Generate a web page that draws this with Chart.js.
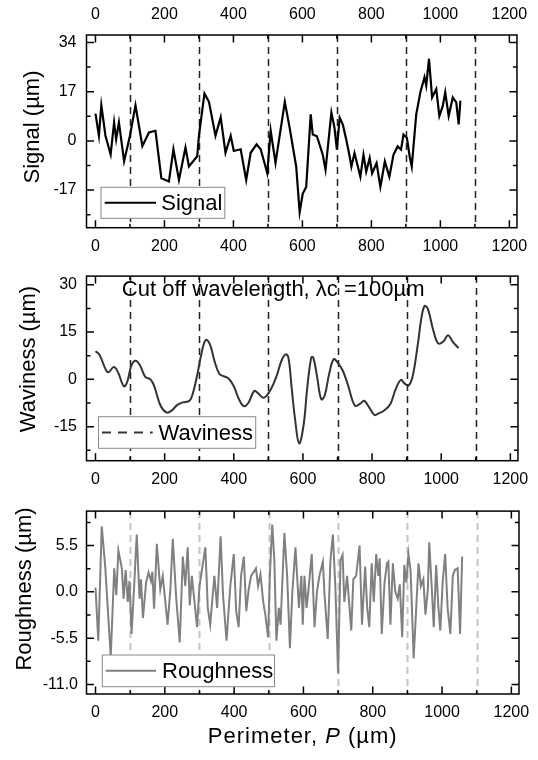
<!DOCTYPE html>
<html>
<head>
<meta charset="utf-8">
<script src="https://cdn.jsdelivr.net/npm/chart.js@4.4.1/dist/chart.umd.min.js"></script>
<style>
  html, body { margin: 0; padding: 0; background: #fff; }
  #wrap { position: relative; width: 538px; height: 760px; }
  .panel { position: absolute; left: 0; width: 538px; }
</style>
</head>
<body>
<div id="wrap">
  <div class="panel" style="top:0;height:257px"><canvas id="c1" width="538" height="257"></canvas></div>
  <div class="panel" style="top:257px;height:236px"><canvas id="c2" width="538" height="236"></canvas></div>
  <div class="panel" style="top:493px;height:267px"><canvas id="c3" width="538" height="267"></canvas></div>
</div>
<script>
/* ═══ profile: signal / waviness / roughness ═══ */
var xTicks   = [0, 200, 400, 600, 800, 1000, 1200];
var xMinor   = [100, 300, 500, 700, 900, 1100];
var cutLines = [100, 300, 500, 700, 900, 1100];

var sigTicks = [-17, 0, 17, 34];
var sigMinor = [-25.5, -8.5, 8.5, 25.5];
var wavTicks = [-15, 0, 15, 30];
var wavMinor = [-22.5, -7.5, 7.5, 22.5];
var rouTicks = [-11, -5.5, 0, 5.5];
var rouMinor = [-8.25, -2.75, 2.75, 8.25];

var sigX = [0,10,17,29,44,54,60,68,83,100,116,136,155,174,191,213,226,242,261,271,295,300,316,329,348,363,377,392,401,421,437,450,467,479,498,508,522,549,563,577,582,592,601,611,624,630,642,659,667,684,693,700,708,717,727,737,742,751,768,777,785,795,802,815,826,839,852,864,876,886,893,903,911,917,930,942,954,959,967,976,988,997,1007,1014,1024,1036,1046,1053,1058];
var sigY = [9.4,1.8,12.3,1.8,-4.7,6.4,0.6,6.4,-7,1.8,12.3,-1.8,2.9,3.5,-12.9,-14,-2.9,-13.5,-2.3,-8.8,-5.3,1.8,16.4,13.5,1.8,8.2,-4.1,1.8,-3.5,-2.9,-13.5,-4.1,-1.2,-2.9,-11.1,3.5,-7.6,13.5,4.5,-5.4,-8.9,-24.6,-18.2,-15.9,9.2,2.2,1.6,-4.8,-10,9.8,4.5,-3,8,5.7,0.5,-5.4,-8.9,-4.2,-12.4,-4.8,-10.6,-5.9,-11.2,-7.7,-15.9,-7.1,-12.4,-4.8,-1.9,-3,2.2,1,-5.4,-8.9,9.2,16.8,22,19.1,28.4,15,17.9,8.6,12.1,16.8,8.6,15,13.3,5.7,13.9];

var wavX = [0,11,31,38,53,65,82,92,104,116,129,144,159,170,188,205,218,237,252,272,282,295,306,319,331,344,358,370,385,400,415,429,442,459,469,484,494,508,523,538,550,558,567,577,589,602,612,624,630,641,653,663,676,689,700,715,730,750,765,777,791,807,819,836,853,868,883,893,905,917,932,942,952,962,976,991,1006,1020,1033,1050];
var wavY = [8.9,7.9,2.8,2.3,3.9,2.3,-2.2,-0.7,4.4,5.9,4.4,0.8,0,-2.2,-8.3,-10.5,-10.1,-8.1,-7.3,-6.8,-4.3,1.8,7.9,12.5,11.1,5.9,1.8,1,0.3,-2.2,-6.3,-8.5,-7.5,-3.7,-4.3,-5.8,-5.3,-3,0.8,5.9,7.9,6.9,-2.2,-12.4,-20.3,-14.4,-3.2,6.9,6.9,0.8,-6.3,-5.1,1.8,6.4,5.4,2.8,-1.7,-8.3,-7.8,-6.8,-8.8,-11.3,-10.8,-9.8,-7.8,-3.2,-0.2,-1.2,-2,0.8,10.9,19,23.3,22.1,16,11.4,12,14,12,9.9];

var rouX = [0,8,18,28,44,54,60,66,76,81,87,93,98,104,112,119,127,131,137,146,153,160,164,169,177,187,194,208,216,223,233,243,252,259,266,272,278,293,300,317,324,331,343,351,361,368,378,389,399,406,413,420,428,435,442,449,457,463,469,476,484,490,498,503,510,516,522,529,534,545,553,561,568,577,587,594,598,603,609,613,624,632,639,646,656,661,670,678,685,692,700,707,713,718,726,738,744,752,762,769,778,784,790,797,803,810,816,820,826,834,841,845,851,858,865,872,878,885,891,897,903,909,913,918,925,932,939,946,952,959,963,970,976,983,989,995,1002,1009,1016,1024,1031,1037,1045,1052,1058];
var rouY = [0.5,-5.8,7.8,3,-7.7,2.8,-0.4,4.9,2.8,-0.8,2.6,-1.2,1.3,-5,1.1,6.8,-0.8,1.5,-3.1,1.1,2.3,1.3,2.4,-2,5.7,0.3,1.9,-3.9,0.3,6.3,-0.8,-6,4.2,0.7,5.3,-1.6,1.9,-4.2,0.7,5.3,-1.9,-3.9,1.9,-1.9,6.6,-0.4,-5.8,0.7,4.5,-2.3,-4.2,1.9,4.2,-2.3,0.3,1.9,2.4,2.8,0.7,2.1,-1.2,-2.7,-5.4,1.9,8,3.8,-5.8,-1.9,-3.9,7,1.9,-6.7,0,5.3,-1.9,1.9,-3.9,1.9,-1.9,-0.4,4.5,-4.2,0,1.9,3.6,-0.4,-5.6,3.8,6.8,0.7,-9.7,3.8,4.4,-1.2,1.9,-4.6,1.5,1.9,5.5,-3.9,3,-1.9,-4.2,3.4,-1.2,4.5,1.9,4,-5,1.1,3.4,3.6,-3.9,3.4,0,-0.8,0.9,-5.4,3.2,1.1,4.5,2.6,-1.9,-7.9,-2.3,3.4,0.7,1.5,-2.7,0.3,5.9,0.7,-4.2,3.2,-1.6,-4.6,1.3,4.5,-1.9,-5,1.9,2.6,2.8,-5,4.2];

var FONT = '"Liberation Sans", Arial, sans-serif';
Chart.defaults.font.family = FONT;
Chart.defaults.color = '#000';

function pts(xs, ys) { return xs.map(function(x, i){ return {x: x, y: ys[i]}; }); }

function xAxis(pos, h, pad) {
  return {
    type: 'linear', position: pos, min: -26, max: 1222,
    afterBuildTicks: function(s){ s.ticks = xTicks.map(function(v){ return {value: v}; }); },
    afterFit: function(s){ s.height = h; },
    grid: {display: false, drawTicks: false}, border: {display: false},
    ticks: {color: '#000', font: {size: 16}, padding: pad, maxRotation: 0, autoSkip: false,
      callback: function(v){ return String(v); }}
  };
}

function yAxis(min, max, ticks, pad, fmt) {
  return {
    type: 'linear', position: 'left', min: min, max: max,
    afterBuildTicks: function(s){ s.ticks = ticks.map(function(v){ return {value: v}; }); },
    afterFit: function(s){ s.width = 86.5; },
    grid: {display: false, drawTicks: false}, border: {display: false},
    ticks: {color: '#000', font: {size: 16}, padding: pad,
      callback: function(v){ return fmt ? v.toFixed(1) : String(v); }}
  };
}

// frame, inward ticks, cut-off lines, legend, titles
function decor(o) {
  return {
    id: 'decor',
    beforeDatasetsDraw: function(c) {
      var ctx = c.ctx, a = c.chartArea, xs = c.scales.x;
      ctx.save();
      ctx.strokeStyle = o.dashColor; ctx.lineWidth = o.dashWidth; ctx.setLineDash([7, 5]);
      cutLines.forEach(function(v){
        var p = Math.round(xs.getPixelForValue(v)) + 0.5;
        ctx.beginPath(); ctx.moveTo(p, a.top); ctx.lineTo(p, a.bottom); ctx.stroke();
      });
      ctx.restore();
    },
    afterDatasetsDraw: function(c) {
      var ctx = c.ctx, a = c.chartArea, xs = c.scales.x, ys = c.scales.y;
      ctx.save();
      ctx.strokeStyle = '#000'; ctx.lineWidth = 1.5; ctx.setLineDash([]);
      ctx.beginPath();
      function xt(list, len) {
        list.forEach(function(v){
          var p = xs.getPixelForValue(v);
          ctx.moveTo(p, a.top); ctx.lineTo(p, a.top + len);
          ctx.moveTo(p, a.bottom); ctx.lineTo(p, a.bottom - len);
        });
      }
      function yt(list, len) {
        list.forEach(function(v){
          var p = ys.getPixelForValue(v);
          ctx.moveTo(a.left, p); ctx.lineTo(a.left + len, p);
          ctx.moveTo(a.right, p); ctx.lineTo(a.right - len, p);
        });
      }
      xt(xTicks, 7.5); xt(xMinor, 4);
      yt(o.yTicks, 7.5); yt(o.yMinor, 4);
      ctx.stroke();
      ctx.strokeRect(a.left, a.top, a.right - a.left, a.bottom - a.top);

      // legend
      var lg = o.legend;
      ctx.fillStyle = '#fff';
      ctx.fillRect(lg.x0, lg.y0, lg.x1 - lg.x0, lg.y1 - lg.y0);
      ctx.strokeStyle = '#8a8a8a'; ctx.lineWidth = 1;
      ctx.strokeRect(lg.x0, lg.y0, lg.x1 - lg.x0, lg.y1 - lg.y0);
      var my = (lg.y0 + lg.y1) / 2;
      ctx.strokeStyle = lg.color; ctx.lineWidth = 2;
      ctx.setLineDash(lg.dash || []);
      ctx.beginPath(); ctx.moveTo(lg.lx0, my); ctx.lineTo(lg.lx1, my); ctx.stroke();
      ctx.setLineDash([]);
      ctx.fillStyle = '#000'; ctx.font = '22px ' + FONT;
      ctx.textAlign = 'left'; ctx.textBaseline = 'middle';
      ctx.fillText(lg.text, lg.tx, my + 1);

      if (o.note) {
        ctx.fillText(o.note.text, o.note.x, o.note.y);
      }

      // y title
      ctx.save();
      ctx.translate(o.yTitle.x, o.yTitle.y); ctx.rotate(-Math.PI / 2);
      ctx.textAlign = 'center'; ctx.textBaseline = 'middle';
      ctx.fillText(o.yTitle.text, 0, 0);
      ctx.restore();

      // x title
      if (o.xTitle) {
        try { ctx.letterSpacing = '1px'; } catch (e) {}
        var p1 = 'Perimeter, ', p2 = 'P', p3 = ' (\u00b5m)';
        ctx.font = '22px ' + FONT;
        var w1 = ctx.measureText(p1).width, w3 = ctx.measureText(p3).width;
        ctx.font = 'italic 22px ' + FONT;
        var w2 = ctx.measureText(p2).width;
        var x0 = (a.left + a.right) / 2 - (w1 + w2 + w3) / 2, ty = o.xTitle.y;
        ctx.textAlign = 'left';
        ctx.font = '22px ' + FONT; ctx.fillText(p1, x0, ty);
        ctx.font = 'italic 22px ' + FONT; ctx.fillText(p2, x0 + w1, ty);
        ctx.font = '22px ' + FONT; ctx.fillText(p3, x0 + w1 + w2, ty);
        try { ctx.letterSpacing = '0px'; } catch (e) {}
      }
      ctx.restore();
    }
  };
}

function lineSet(label, data, color, width, tension) {
  return {label: label, data: data, borderColor: color, borderWidth: width,
    pointRadius: 0, fill: false, tension: tension || 0};
}

// Signal
new Chart(document.getElementById('c1'), {
  type: 'line',
  data: {datasets: [lineSet('Signal', pts(sigX, sigY), '#000', 2.2)]},
  plugins: [decor({
    dashColor: '#222', dashWidth: 1.5, yTicks: sigTicks, yMinor: sigMinor,
    legend: {x0: 101, y0: 187.3, x1: 224.8, y1: 218.3, lx0: 104.7, lx1: 156, tx: 161.3, text: 'Signal', color: '#000'},
    yTitle: {x: 32.6, y: 127, text: 'Signal (\u00b5m)'}
  })],
  options: {
    responsive: false, animation: false,
    layout: {padding: {left: 0, right: 19, top: 0, bottom: 0}},
    plugins: {legend: {display: false}, tooltip: {enabled: false}},
    scales: {
      x: xAxis('bottom', 29.3, 9.5),
      x2: xAxis('top', 35, 10.5),
      y: yAxis(-30, 36.6, sigTicks, 10)
    }
  }
});

// Waviness
new Chart(document.getElementById('c2'), {
  type: 'line',
  data: {datasets: [lineSet('Waviness', pts(wavX, wavY), '#333', 2, 0.4)]},
  plugins: [decor({
    dashColor: '#222', dashWidth: 1.5, yTicks: wavTicks, yMinor: wavMinor,
    legend: {x0: 98.5, y0: 159.7, x1: 255.7, y1: 191.3, lx0: 102, lx1: 152.7, tx: 158.5, text: 'Waviness', color: '#333', dash: [9, 7]},
    note: {x: 121.8, y: 33, text: 'Cut off wavelength, \u03bbc =100\u00b5m'},
    yTitle: {x: 29.2, y: 102, text: 'Waviness (\u00b5m)'}
  })],
  options: {
    responsive: false, animation: false,
    layout: {padding: {left: 0, right: 19, top: 11.3, bottom: 0}},
    plugins: {legend: {display: false}, tooltip: {enabled: false}},
    scales: {
      x: xAxis('bottom', 32.3, 9.5),
      y: yAxis(-25.8, 32.75, wavTicks, 9.5)
    }
  }
});

// Roughness
new Chart(document.getElementById('c3'), {
  type: 'line',
  data: {datasets: [lineSet('Roughness', pts(rouX, rouY), '#808080', 2)]},
  plugins: [decor({
    dashColor: '#c4c4c4', dashWidth: 2, yTicks: rouTicks, yMinor: rouMinor,
    legend: {x0: 102.3, y0: 162, x1: 274.5, y1: 193.7, lx0: 105.7, lx1: 156, tx: 162, text: 'Roughness', color: '#808080'},
    yTitle: {x: 25.4, y: 96, text: 'Roughness (\u00b5m)'},
    xTitle: {y: 243.7}
  })],
  options: {
    responsive: false, animation: false,
    layout: {padding: {left: 0, right: 19, top: 10.3, bottom: 0}},
    plugins: {legend: {display: false}, tooltip: {enabled: false}},
    scales: {
      x: xAxis('bottom', 66, 8.5),
      y: yAxis(-12.14, 9.6, rouTicks, 8.5, true)
    }
  }
});
</script>
</body>
</html>
